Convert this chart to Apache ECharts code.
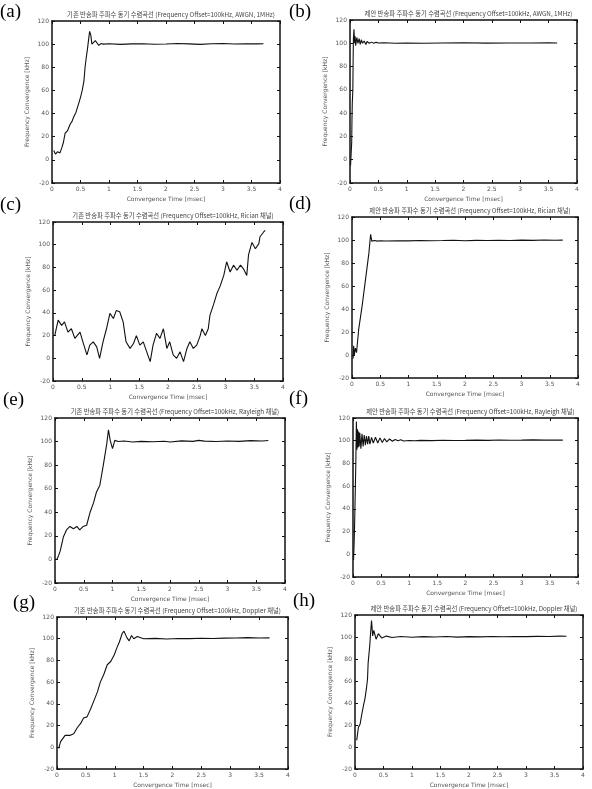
<!DOCTYPE html>
<html><head><meta charset="utf-8">
<script src="https://cdn.jsdelivr.net/npm/echarts@6/dist/echarts.min.js"></script>
<style>html,body{margin:0;padding:0;background:#fff}#c{width:592px;height:789px}</style>
</head><body><div id="c"></div>
<script>
// ---- data ----
const panelLabels = ['(a)','(b)','(c)','(d)','(e)','(f)','(g)','(h)'];
const titles = [
  '기존 반송파 주파수 동기 수렴곡선 (Frequency Offset=100kHz, AWGN, 1MHz)',
  '제안 반송파 주파수 동기 수렴곡선 (Frequency Offset=100kHz, AWGN, 1MHz)',
  '기존 반송파 주파수 동기 수렴곡선 (Frequency Offset=100kHz, Rician 채널)',
  '제안 반송파 주파수 동기 수렴곡선 (Frequency Offset=100kHz, Rician 채널)',
  '기존 반송파 주파수 동기 수렴곡선 (Frequency Offset=100kHz, Rayleigh 채널)',
  '제안 반송파 주파수 동기 수렴곡선 (Frequency Offset=100kHz, Rayleigh 채널)',
  '기존 반송파 주파수 동기 수렴곡선 (Frequency Offset=100kHz, Doppler 채널)',
  '제안 반송파 주파수 동기 수렴곡선 (Frequency Offset=100kHz, Doppler 채널)'
];
const xTickLabels = ['0','0.5','1','1.5','2','2.5','3','3.5','4'];
const yTickLabels = ['-20','0','20','40','60','80','100','120'];
const xName = 'Convergence Time [msec]';
const yName = 'Frequency Convergence [kHz]';

const ta = [0.03,0.06,0.1,0.14,0.175,0.2,0.23,0.27,0.32,0.35,0.38,0.42,0.47,0.5,0.53,0.56,0.58,0.6,0.62,0.64,0.66,0.68,0.70,0.73,0.76,0.79,0.82,0.86,0.9,1.0,1.2,1.4,1.6,1.8,2.0,2.2,2.4,2.6,2.8,3.0,3.2,3.4,3.6,3.71];
const va = [8,5,7,6,11,15,23,25,31,33,37,41,49,54,60,68,80,88,95,103,111,108,100,99,103,101,99,100.5,100,100.4,99.8,100.2,100.3,99.9,100.1,100.5,100.2,99.8,100.3,100.6,100.1,100.4,100.2,100.3];

const tb = [0.01,0.02,0.03,0.035,0.04,0.05,0.055,0.06,0.07,0.08,0.09,0.1,0.12,0.14,0.16,0.18,0.2,0.22,0.25,0.28,0.3,0.34,0.38,0.42,0.46,0.5,0.6,0.8,1.0,1.3,1.6,2.0,2.4,2.8,3.2,3.5,3.65];
const vb = [-5,5,15,35,48,60,85,104,112,100,106,98,105,100,104,99,103,100,102,99,101.5,100,101,100,100.8,100.2,100.5,100,100.3,100,100.2,100.4,100.1,100.3,100.2,100.4,100.3];

const tc = [0.03,0.09,0.15,0.2,0.26,0.32,0.38,0.47,0.52,0.59,0.64,0.70,0.76,0.81,0.87,0.93,0.99,1.05,1.10,1.16,1.22,1.27,1.34,1.40,1.45,1.51,1.57,1.63,1.69,1.74,1.80,1.86,1.92,1.98,2.03,2.09,2.15,2.21,2.27,2.33,2.38,2.44,2.50,2.56,2.59,2.65,2.70,2.73,2.79,2.85,2.91,2.97,3.02,3.08,3.14,3.20,3.26,3.31,3.37,3.40,3.46,3.52,3.58,3.60,3.66,3.69];
const vc = [20,33.6,29,32,23,26,17.5,23,14.5,3,11.6,14.5,10,0,14.5,26,39.5,35,42,41,32,14.5,8.7,13,20,11.6,14.5,5.7,-3,11.6,22,17.5,26,8.7,14.5,3,0,5.7,-3,8.7,14.5,8.7,11.6,20,26,20,26,38,47,57,64,73,85,76,82,77.5,82,79,73,91,102,96.5,101,107,111,112.7];

const td = [0.02,0.03,0.04,0.06,0.08,0.12,0.18,0.24,0.3,0.32,0.33,0.35,0.37,0.4,0.45,0.5,0.6,0.8,1.0,1.2,1.4,1.6,1.8,2.0,2.2,2.4,2.6,2.8,3.0,3.2,3.4,3.6,3.73];
const vd = [-3,8,0,6,2,23,43,66,89,100,105,99,98.5,99.5,99,99.3,99.1,99.4,99.2,99.6,99.3,99.5,99.8,99.4,99.7,99.5,99.8,99.6,99.9,99.7,100,99.8,99.9];

const te = [0.03,0.06,0.09,0.145,0.2,0.26,0.32,0.38,0.43,0.49,0.55,0.61,0.67,0.72,0.75,0.78,0.84,0.9,0.93,0.96,1.0,1.04,1.1,1.2,1.35,1.5,1.7,1.9,2.0,2.2,2.4,2.5,2.6,2.8,3.0,3.2,3.4,3.6,3.71];
const ve = [0,3,7,19,25,28,26,28,25,28,29,40,48,57,58,63,80,98,110,101,94,101,100,100.5,99.6,100.2,99.8,100.3,99.7,100.6,100.2,101,100.4,100.1,100.5,100.2,100.8,100.5,100.9];

const tf = [0.01,0.02,0.03,0.04,0.05,0.06,0.07,0.08,0.09,0.1,0.11,0.12,0.14,0.16,0.18,0.2,0.22,0.24,0.26,0.28,0.3,0.33,0.36,0.4,0.44,0.48,0.52,0.56,0.6,0.65,0.7,0.75,0.8,0.85,0.9,1.0,1.1,1.2,1.4,1.6,1.8,2.0,2.2,2.4,2.6,2.8,3.0,3.2,3.4,3.6,3.73];
const vf = [-5,10,30,55,80,117,92,110,94,108,95,107,93,106,95,105,96,104,97,104,97,103,98,103,98,102.5,98.5,102,99,101.5,99.5,101,100,100.8,99.8,100.2,100,100.3,100.1,100.4,100.2,100.3,100.5,100.3,100.6,100.4,100.5,100.7,100.5,100.6,100.5];

const tg = [0.03,0.06,0.14,0.23,0.29,0.35,0.41,0.46,0.52,0.58,0.64,0.70,0.75,0.81,0.87,0.93,0.99,1.04,1.08,1.13,1.16,1.21,1.25,1.29,1.33,1.39,1.5,1.7,1.9,2.1,2.3,2.5,2.7,2.9,3.1,3.3,3.5,3.68];
const vg = [-1,5,11,11,12.5,18,22,27,28,35,43,51,60,67,76,79,85,92,97,105,107,101,98,103,100,102,100,100.3,99.8,100.2,100.1,100.4,100.2,100.5,100.6,101,100.7,100.8];

const th = [0.03,0.06,0.09,0.12,0.15,0.175,0.2,0.22,0.23,0.26,0.27,0.29,0.31,0.33,0.37,0.41,0.47,0.55,0.65,0.8,1.0,1.2,1.4,1.6,1.8,2.0,2.2,2.4,2.6,2.8,3.0,3.2,3.4,3.6,3.71];
const vh = [6,18,21,30,38,44,53,62,76,93,101,115,101,106,98,103,99,100.8,99.5,100.5,99.8,100.3,100,100.4,99.9,100.3,100.1,100.5,100.2,100.4,100.3,100.6,100.4,100.8,100.7];

const seriesT = [ta,tb,tc,td,te,tf,tg,th];
const seriesV = [va,vb,vc,vd,ve,vf,vg,vh];

// ---- layout ----
const grids = [
  {left:52, top:21, width:228, height:162},
  {left:350, top:20, width:227, height:163},
  {left:53, top:222, width:230, height:159},
  {left:352, top:217, width:226, height:161},
  {left:55, top:418, width:230, height:165},
  {left:353, top:418, width:225, height:159},
  {left:57, top:617, width:231, height:160},
  {left:355, top:615, width:228, height:158}
];
const labelPos = [[0,3],[289,3],[0,196],[289,195],[3,391],[289,390],[13,594],[293,592]];

const tickFont = {fontSize:6, color:'#555', fontFamily:'DejaVu Sans'};
const option = {
  backgroundColor:'#fff', animation:false,
  grid:[], xAxis:[], yAxis:[], series:[], title:[], graphic:[]
};
grids.forEach((g,i)=>{
  option.grid.push(Object.assign({show:false}, g));
  option.title.push({
    text: titles[i], left: g.left + g.width/2, top: g.top - 15, textAlign:'center',
    textStyle:{fontSize:6.3, fontWeight:'normal', color:'#444', fontFamily:'Noto Sans CJK KR'}
  });
  const axLine = {show:true, onZero:false, lineStyle:{color:'#111', width:1.5}};
  const tick = {show:true, inside:true, length:3, lineStyle:{color:'#111'}};
  option.xAxis.push({
    gridIndex:i, type:'value', min:0, max:4, interval:0.5, position:'bottom',
    axisLine:axLine, axisTick:tick, splitLine:{show:false},
    axisLabel:Object.assign({margin:3, formatter:(v)=>xTickLabels[Math.round(v*2)]}, tickFont),
    name:xName, nameLocation:'middle', nameGap:13, nameTextStyle:tickFont
  });
  option.xAxis.push({
    gridIndex:i, type:'value', min:0, max:4, interval:0.5, position:'top',
    axisLine:axLine, axisTick:tick, axisLabel:{show:false}, splitLine:{show:false}
  });
  option.yAxis.push({
    gridIndex:i, type:'value', min:-20, max:120, interval:20, position:'left',
    axisLine:axLine, axisTick:tick, splitLine:{show:false},
    axisLabel:Object.assign({margin:3, formatter:(v)=>yTickLabels[Math.round((v+20)/20)]}, tickFont),
    name:yName, nameLocation:'middle', nameGap:22, nameTextStyle:tickFont
  });
  option.yAxis.push({
    gridIndex:i, type:'value', min:-20, max:120, interval:20, position:'right',
    axisLine:axLine, axisTick:tick, axisLabel:{show:false}, splitLine:{show:false}
  });
  option.series.push({
    type:'line', xAxisIndex:2*i, yAxisIndex:2*i, showSymbol:false, symbol:'none',
    lineStyle:{color:'#111', width:1.1},
    data: seriesT[i].map((t,k)=>[t, seriesV[i][k]])
  });
  option.graphic.push({
    type:'text', left:labelPos[i][0], top:labelPos[i][1],
    style:{text:panelLabels[i], fontSize:19, fill:'#000', fontFamily:'Liberation Serif'}
  });
});
const chart = echarts.init(document.getElementById('c'), null, {renderer:'canvas'});
chart.setOption(option);
</script></body></html>
